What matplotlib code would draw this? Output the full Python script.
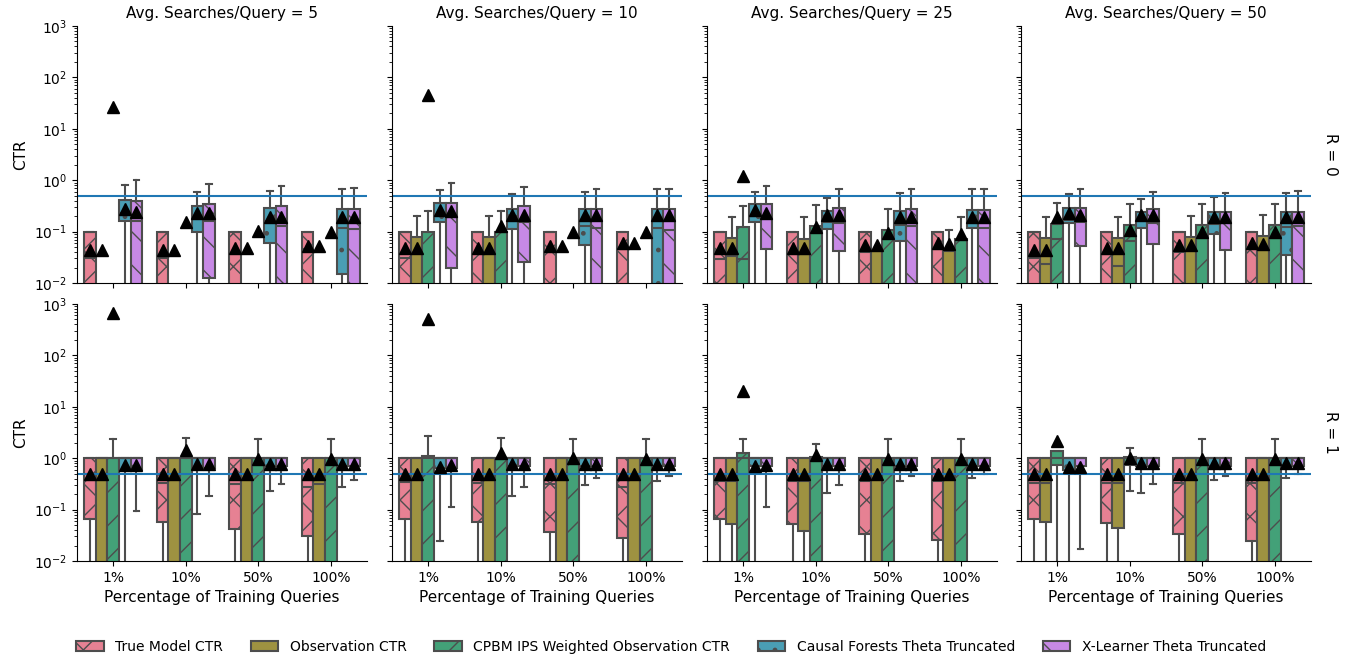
import numpy as np
import matplotlib
matplotlib.use('Agg')
import matplotlib.pyplot as plt
import seaborn as sns
from matplotlib.patches import Patch

Z = 1e-4      # value below the visible axis range
N = np.nan    # no box drawn

searches = [5, 10, 25, 50]
pct_labels = ['1%', '10%', '50%', '100%']
methods = ['True Model CTR', 'Observation CTR', 'CPBM IPS Weighted Observation CTR',
           'Causal Forests Theta Truncated', 'X-Learner Theta Truncated']
r_values = [0, 1]

# ---- R = 0 : [searches][pct][method] ----
r0_q3 = [
    [[0.1, N, N, 0.41, 0.40], [0.1, N, N, 0.31, 0.34], [0.1, N, N, 0.29, 0.31], [0.1, N, N, 0.28, 0.28]],
    [[0.1, 0.079, 0.1, 0.355, 0.36], [0.1, 0.079, 0.1, 0.275, 0.315], [0.1, N, N, 0.27, 0.28], [0.1, N, N, 0.27, 0.27]],
    [[0.1, 0.076, 0.121, 0.34, 0.34], [0.1, 0.072, 0.13, 0.255, 0.29], [0.1, 0.044, 0.107, 0.255, 0.27], [0.1, 0.042, 0.072, 0.26, 0.26]],
    [[0.1, 0.076, 0.139, 0.29, 0.29], [0.1, 0.076, 0.134, 0.244, 0.275], [0.1, 0.079, 0.134, 0.244, 0.244], [0.1, 0.083, 0.134, 0.244, 0.244]],
]
r0_q1 = [
    [[Z, N, N, 0.16, Z], [Z, N, N, 0.10, 0.0123], [Z, N, N, 0.061, Z], [Z, N, N, 0.0148, Z]],
    [[Z, Z, Z, 0.156, 0.0193], [Z, Z, Z, 0.111, 0.0252], [Z, N, N, 0.055, Z], [Z, N, N, Z, Z]],
    [[Z, Z, Z, 0.151, 0.045], [Z, Z, Z, 0.111, 0.042], [Z, Z, Z, 0.067, Z], [Z, Z, Z, 0.119, Z]],
    [[Z, Z, Z, 0.149, 0.052], [Z, Z, Z, 0.119, 0.057], [Z, Z, Z, 0.089, 0.044], [Z, Z, Z, 0.035, Z]],
]
r0_med = [
    [[0.030, N, N, 0.23, 0.16], [0.030, N, N, 0.19, 0.16], [0.038, N, N, 0.16, 0.128], [0.045, N, N, 0.116, 0.11]],
    [[0.030, Z, Z, 0.21, 0.2], [0.037, Z, Z, 0.2, 0.156], [0.040, N, N, 0.128, 0.12], [0.045, N, N, 0.12, 0.107]],
    [[0.029, 0.034, 0.029, 0.2, 0.18], [0.037, 0.037, Z, 0.156, 0.145], [0.040, Z, 0.074, 0.134, 0.13], [0.046, Z, Z, 0.156, 0.116]],
    [[0.030, 0.0235, 0.071, 0.17, 0.156], [0.037, 0.0215, 0.066, 0.186, 0.145], [0.040, 0.044, Z, 0.139, 0.156], [0.045, Z, Z, 0.125, 0.128]],
]
r0_hi = [
    [[0.1, N, N, 0.81, 1.0], [0.1, N, N, 0.6, 0.84], [0.1, N, N, 0.62, 0.78], [0.1, N, N, 0.67, 0.72]],
    [[0.1, 0.2, 0.25, 0.64, 0.87], [0.1, 0.2, 0.25, 0.53, 0.75], [0.1, N, N, 0.6, 0.68], [0.1, N, N, 0.67, 0.67]],
    [[0.1, 0.195, 0.31, 0.6, 0.78], [0.1, 0.19, 0.33, 0.46, 0.67], [0.1, 0.044, 0.275, 0.56, 0.67], [0.1, 0.107, 0.195, 0.66, 0.66]],
    [[0.1, 0.19, 0.355, 0.53, 0.67], [0.1, 0.19, 0.34, 0.43, 0.6], [0.1, 0.2, 0.34, 0.48, 0.56], [0.1, 0.215, 0.34, 0.57, 0.62]],
]
r0_lo = [
    [[Z, N, N, Z, Z], [Z, N, N, Z, Z], [Z, N, N, Z, Z], [Z, N, N, Z, Z]],
    [[Z, Z, Z, Z, Z], [Z, Z, Z, Z, Z], [Z, N, N, Z, Z], [Z, N, N, Z, Z]],
    [[Z, Z, Z, Z, Z], [Z, Z, Z, Z, Z], [Z, Z, Z, Z, Z], [Z, Z, Z, Z, Z]],
    [[Z, Z, Z, Z, Z], [Z, Z, Z, Z, Z], [Z, Z, Z, Z, Z], [Z, Z, Z, Z, Z]],
]
r0_mean = [
    [[0.044, 0.044, 26, 0.28, 0.24], [0.044, 0.044, 0.156, 0.23, 0.23], [0.049, 0.049, 0.104, 0.195, 0.195], [0.052, 0.052, 0.1, 0.195, 0.195]],
    [[0.047, 0.047, 45, 0.26, 0.25], [0.047, 0.047, 0.128, 0.21, 0.21], [0.053, 0.053, 0.1, 0.21, 0.21], [0.059, 0.059, 0.1, 0.21, 0.21]],
    [[0.047, 0.047, 1.2, 0.26, 0.23], [0.047, 0.047, 0.125, 0.21, 0.21], [0.055, 0.055, 0.095, 0.195, 0.195], [0.059, 0.057, 0.09, 0.195, 0.195]],
    [[0.044, 0.044, 0.195, 0.233, 0.21], [0.047, 0.047, 0.107, 0.21, 0.21], [0.055, 0.055, 0.1, 0.195, 0.195], [0.059, 0.057, 0.1, 0.195, 0.195]],
]

# ---- R = 1 ----
r1_q3 = [
    [[1, 1, 1, 1, 1], [1, 1, 1, 1, 1], [1, 1, 1, 1, 1], [1, 1, 1, 1, 1]],
    [[1, 1, 1.1, 1, 1], [1, 1, 1, 1, 1], [1, 1, 1, 1, 1], [1, 1, 1, 1, 1]],
    [[1, 1, 1.28, 1, 1], [1, 1, 1.07, 1, 1], [1, 1, 1, 1, 1], [1, 1, 1, 1, 1]],
    [[1, 1, 1.38, 1, 1], [1, 1, 1.04, 1, 1], [1, 1, 1, 1, 1], [1, 1, 1, 1, 1]],
]
r1_q1 = [
    [[0.065, Z, Z, 0.59, 0.59], [0.057, Z, Z, 0.65, 0.65], [0.042, Z, Z, 0.7, 0.7], [0.031, Z, Z, 0.7, 0.7]],
    [[0.065, Z, Z, 0.65, 0.65], [0.057, Z, Z, 0.7, 0.7], [0.037, Z, Z, 0.7, 0.7], [0.028, Z, Z, 0.7, 0.7]],
    [[0.065, 0.052, Z, 0.7, 0.7], [0.052, 0.039, Z, 0.7, 0.7], [0.0335, Z, Z, 0.7, 0.7], [0.0256, Z, Z, 0.7, 0.7]],
    [[0.065, 0.058, 0.74, 0.58, 0.7], [0.054, 0.043, 0.74, 0.7, 0.7], [0.033, Z, Z, 0.7, 0.7], [0.025, Z, Z, 0.7, 0.7]],
]
r1_med = [
    [[0.37, 1, 1, 1, 1], [0.33, 1, 1, 1, 1], [0.31, 1, 1, 1, 1], [0.28, 0.32, 1, 1, 1]],
    [[0.35, 1, 1, 1, 1], [0.33, 1, 1, 1, 1], [0.31, 1, 1, 1, 1], [0.28, 1, 1, 1, 1]],
    [[0.36, 0.36, 1, 1, 1], [0.36, 0.36, 1, 1, 1], [0.36, 1, 1, 1, 1], [0.36, 1, 1, 1, 1]],
    [[0.33, 0.33, 1, 1, 1], [0.33, 0.33, 1, 1, 1], [0.33, 1, 1, 1, 1], [0.33, 1, 1, 1, 1]],
]
r1_hi = [
    [[1, 1, 2.4, 1, 1], [1, 1, 2.5, 1, 1], [1, 1, 2.4, 1, 1], [1, 1, 2.4, 1, 1]],
    [[1, 1, 2.74, 1, 1], [1, 1, 2.5, 1, 1], [1, 1, 2.4, 1, 1], [1, 1, 2.4, 1, 1]],
    [[1, 1, 2.4, 1, 1], [1, 1, 1.86, 1, 1], [1, 1, 2.4, 1, 1], [1, 1, 2.4, 1, 1]],
    [[1, 1, 1.38, 1, 1], [1, 1, 1.55, 1, 1], [1, 1, 2.4, 1, 1], [1, 1, 2.4, 1, 1]],
]
r1_lo = [
    [[Z, Z, Z, Z, 0.095], [Z, Z, Z, 0.081, 0.186], [Z, Z, Z, 0.23, 0.31], [Z, Z, Z, 0.28, 0.37]],
    [[Z, Z, Z, 0.024, 0.11], [Z, Z, Z, 0.186, 0.28], [Z, Z, Z, 0.3, 0.41], [Z, Z, Z, 0.365, 0.45]],
    [[Z, Z, Z, Z, 0.114], [Z, Z, Z, 0.21, 0.30], [Z, Z, Z, 0.36, 0.45], [Z, Z, Z, 0.42, 0.5]],
    [[Z, Z, Z, Z, 0.017], [Z, Z, 0.23, 0.21, 0.31], [Z, Z, Z, 0.37, 0.45], [Z, Z, Z, 0.42, 0.5]],
]
r1_mean = [
    [[0.5, 0.5, 670, 0.74, 0.74], [0.5, 0.5, 1.45, 0.76, 0.76], [0.5, 0.5, 0.98, 0.78, 0.78], [0.5, 0.5, 0.98, 0.78, 0.78]],
    [[0.5, 0.5, 510, 0.68, 0.74], [0.5, 0.5, 1.24, 0.76, 0.76], [0.5, 0.5, 0.99, 0.78, 0.78], [0.5, 0.5, 0.98, 0.78, 0.78]],
    [[0.5, 0.5, 20, 0.72, 0.74], [0.5, 0.5, 1.15, 0.76, 0.76], [0.5, 0.5, 0.98, 0.78, 0.78], [0.5, 0.5, 0.98, 0.78, 0.78]],
    [[0.5, 0.5, 2.2, 0.68, 0.68], [0.5, 0.5, 1.0, 0.8, 0.8], [0.5, 0.5, 0.98, 0.8, 0.8], [0.5, 0.5, 0.98, 0.8, 0.8]],
]

ref_line = 0.5

plt.rcParams['font.family'] = ['DejaVu Sans']
plt.rcParams['hatch.linewidth'] = 1.0

colors = [sns.desaturate(c, 0.75) for c in sns.color_palette('husl', 5)]
hatches = ['x', '', '/', '.', '\\']
offsets = np.linspace(-0.32, 0.32, 5)
edge = '0.3'
lw = 1.5

rows = [
    (r0_lo, r0_q1, r0_med, r0_q3, r0_hi, r0_mean),
    (r1_lo, r1_q1, r1_med, r1_q3, r1_hi, r1_mean),
]

W, H = 1356, 660
fig = plt.figure(figsize=(W / 100, H / 100), dpi=100)
col_left = [77, 392, 707, 1021]
row_bottom = [283, 561]
ax_w, ax_h = 290, 257

for r, (los, q1s, meds, q3s, his, means) in enumerate(rows):
    for c, s in enumerate(searches):
        ax = fig.add_axes([col_left[c] / W, 1 - row_bottom[r] / H, ax_w / W, ax_h / H])
        ax.set_yscale('log')
        for p in range(len(pct_labels)):
            for m in range(len(methods)):
                x = p + offsets[m]
                mean = means[c][p][m]
                if np.isnan(q3s[c][p][m]):
                    ax.plot([x], [mean], marker='^', color='k', ms=9, zorder=5, ls='none')
                    continue
                stat = dict(whislo=los[c][p][m], q1=q1s[c][p][m], med=meds[c][p][m],
                            q3=q3s[c][p][m], whishi=his[c][p][m], mean=mean, fliers=[])
                ax.bxp([stat], positions=[x], widths=0.16, capwidths=0.08,
                       patch_artist=True, showmeans=True, showfliers=False,
                       boxprops=dict(facecolor=colors[m], edgecolor=edge, linewidth=lw,
                                     hatch=hatches[m]),
                       medianprops=dict(color=edge, linewidth=lw),
                       whiskerprops=dict(color=edge, linewidth=lw),
                       capprops=dict(color=edge, linewidth=lw),
                       meanprops=dict(marker='^', markerfacecolor='k', markeredgecolor='k',
                                      markersize=9, zorder=5))
        ax.axhline(ref_line, color='#1f77b4', lw=1.5, zorder=2.5)
        ax.set_ylim(1e-2, 1e3)
        ax.set_xlim(-0.5, 3.5)
        ax.set_xticks(range(len(pct_labels)))
        ax.spines['top'].set_visible(False)
        ax.spines['right'].set_visible(False)
        ax.tick_params(labelsize=10)
        if r == 0:
            ax.set_title(f'Avg. Searches/Query = {s}', fontsize=11)
            ax.set_xticklabels([])
        else:
            ax.set_xticklabels(pct_labels)
            ax.set_xlabel('Percentage of Training Queries', fontsize=11)
        if c == 0:
            ax.set_ylabel('CTR', fontsize=11)
        else:
            ax.tick_params(axis='y', which='both', labelleft=False)
    fig.text(1330 / W, 1 - (row_bottom[r] - ax_h / 2) / H, f'R = {r_values[r]}',
             rotation=270, ha='center', va='center', fontsize=11)

handles = [Patch(facecolor=colors[m], edgecolor=edge, linewidth=lw, hatch=hatches[m])
           for m in range(len(methods))]
fig.legend(handles, methods, loc='center', ncol=5, frameon=False, fontsize=10,
           bbox_to_anchor=(671 / W, 1 - 647 / H))

fig.savefig('out.png', dpi=100)
